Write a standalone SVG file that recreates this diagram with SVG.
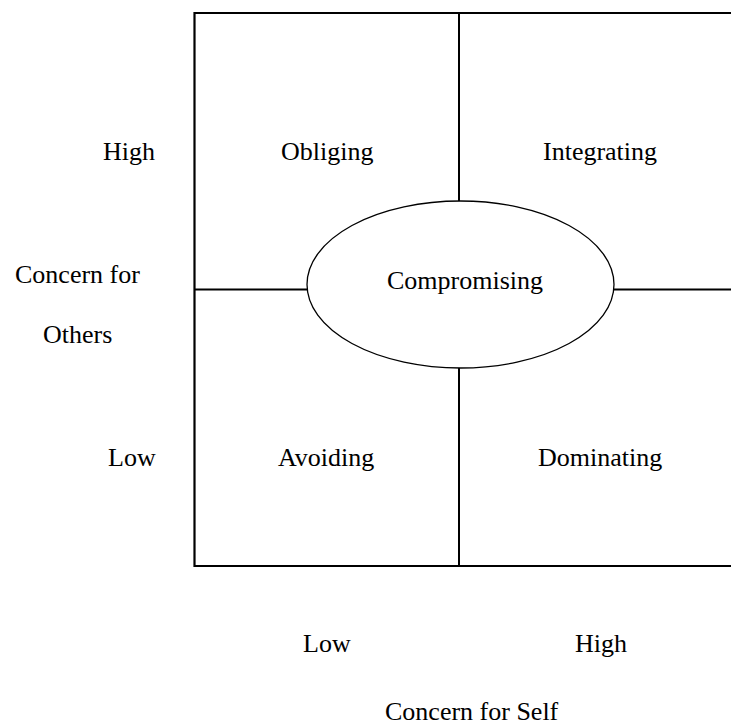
<svg xmlns="http://www.w3.org/2000/svg" width="731" height="727" viewBox="0 0 731 727">
<style>
text { font-family: "Liberation Serif", "Times New Roman", serif; font-size: 26px; fill: #000; }
.frame { fill: none; stroke: #000; stroke-width: 2.2; }
.div { stroke: #000; stroke-width: 2; fill: none; }
.ell { fill: #fff; stroke: #000; stroke-width: 1.3; }
</style>
<rect width="731" height="727" fill="#fff"/>
<g id="grid">
<path class="frame" d="M740,13 H194.5 V566 H740"/>
</g>
<g id="connectors">
<line class="div" x1="459" y1="13" x2="459" y2="201"/>
<line class="div" x1="459" y1="368" x2="459" y2="566"/>
<line class="div" x1="194.5" y1="289.5" x2="307" y2="289.5"/>
<line class="div" x1="614" y1="289.5" x2="740" y2="289.5"/>
</g>
<g id="obliging"><text x="281" y="160">Obliging</text></g>
<g id="integrating"><text x="543" y="160">Integrating</text></g>
<g id="avoiding"><text x="278" y="466">Avoiding</text></g>
<g id="dominating"><text x="538" y="466">Dominating</text></g>
<g id="compromising">
<ellipse class="ell" cx="460.5" cy="284.5" rx="153.5" ry="83.5"/>
<text x="387" y="289">Compromising</text>
</g>
<g id="axis-others">
<text x="103" y="160">High</text>
<text x="15" y="283">Concern for</text>
<text x="43" y="343">Others</text>
<text x="108" y="466">Low</text>
</g>
<g id="axis-self">
<text x="303" y="652">Low</text>
<text x="575" y="652">High</text>
<text x="385" y="720">Concern for Self</text>
</g>
</svg>
